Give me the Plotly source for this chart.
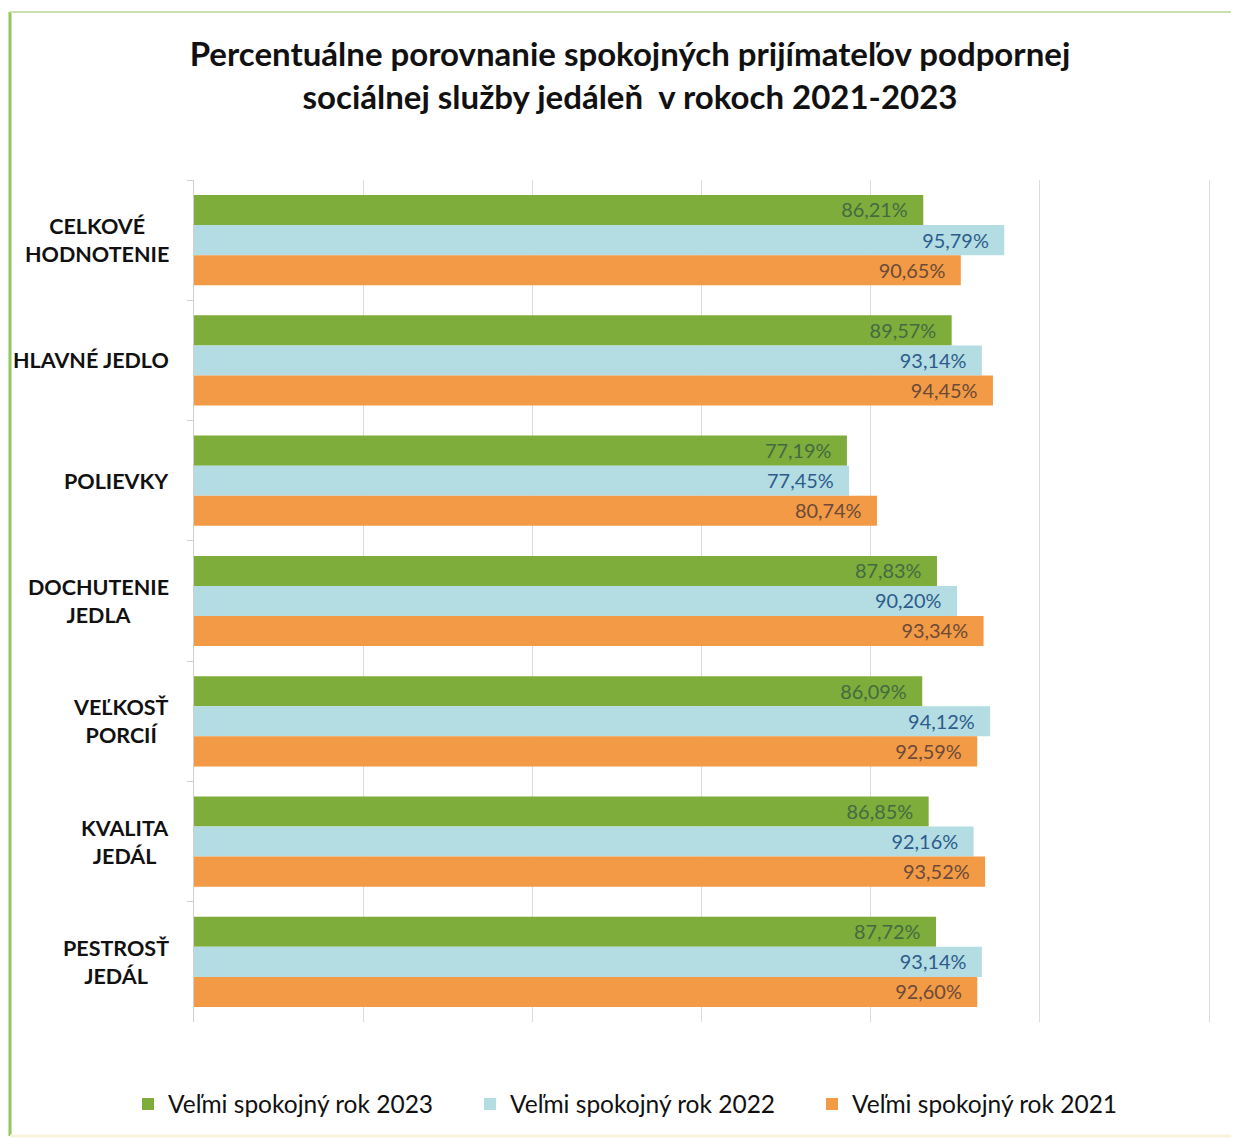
import plotly.graph_objects as go

categories = ["CELKOVÉ<br>HODNOTENIE", "HLAVNÉ JEDLO", "POLIEVKY", "DOCHUTENIE<br>JEDLA",
              "VEĽKOSŤ<br>PORCIÍ", "KVALITA<br>JEDÁL", "PESTROSŤ<br>JEDÁL"]
series_names = ["Veľmi spokojný rok 2023", "Veľmi spokojný rok 2022", "Veľmi spokojný rok 2021"]
values_2023 = [86.21, 89.57, 77.19, 87.83, 86.09, 86.85, 87.72]
values_2022 = [95.79, 93.14, 77.45, 90.20, 94.12, 92.16, 93.14]
values_2021 = [90.65, 94.45, 80.74, 93.34, 92.59, 93.52, 92.60]
grid_ticks = [0, 20, 40, 60, 80, 100, 120]

bar_colors = ["#7fad3b", "#b3dde2", "#f39a46"]
label_colors = ["#436b42", "#2d5b8c", "#6b4a38"]
FONT = "Lato"

W, H = 1231, 1131
L, R, T, B = 186, 13, 172, 117
PW = W - L - R
PH = H - T - B
XMAX = 122

fig = go.Figure()
for name, vals, col, lcol in zip(series_names, [values_2023, values_2022, values_2021],
                                 bar_colors, label_colors):
    fig.add_trace(go.Bar(
        y=categories, x=vals, name=name, orientation="h",
        marker=dict(color=col, line=dict(width=0)),
        texttemplate="%{x:.2f}%\u2002\u2009", textposition="inside",
        insidetextanchor="end", textangle=0,
        textfont=dict(family=FONT, size=21.5, color=lcol),
    ))

for c in categories:
    fig.add_annotation(x=0, xref="paper", xshift=-23, xanchor="right", y=c, yref="y",
                       text=c, showarrow=False, align="center",
                       font=dict(family=FONT, size=21.5, color="#111111", weight="bold"))

# chart border
fig.add_shape(type="line", xref="paper", yref="paper", x0=(2 - L) / PW, x1=(2 - L) / PW,
              y0=-(1128 - (H - B)) / PH, y1=(H - B - 4) / PH,
              line=dict(color="#93c65c", width=3))
fig.add_shape(type="line", xref="paper", yref="paper", x0=(2 - L) / PW, x1=1.05,
              y0=(H - B - 4) / PH, y1=(H - B - 4) / PH,
              line=dict(color="#c9dfae", width=2))
fig.add_shape(type="line", xref="paper", yref="paper", x0=(2 - L) / PW, x1=1.05,
              y0=-(1128 - (H - B)) / PH, y1=-(1128 - (H - B)) / PH,
              line=dict(color="#f7f3dc", width=3))

fig.update_layout(
    width=W, height=H,
    margin=dict(l=L, r=R, t=T, b=B),
    paper_bgcolor="white", plot_bgcolor="white",
    separators=", ",
    barmode="group", bargap=0.25, bargroupgap=0,
    showlegend=True,
    title=dict(text="<b>Percentuálne porovnanie spokojných prijímateľov podpornej<br>sociálnej služby jedáleň  v rokoch 2021-2023</b>",
               x=622/W, xanchor="center", y=1-58/H, yanchor="middle",
               font=dict(family=FONT, size=33, color="#111111")),
    xaxis=dict(range=[0, XMAX], tickvals=grid_ticks, showticklabels=False, showgrid=True,
               gridcolor="#dcdcdc", gridwidth=1, zeroline=False, showline=False, fixedrange=True),
    yaxis=dict(autorange="reversed", showticklabels=False, showline=True, linecolor="#d0d0d0",
               ticks="outside", tickson="boundaries", ticklen=6, tickcolor="#d0d0d0",
               showgrid=False, zeroline=False),
    legend=dict(orientation="h", x=(120-L)/PW, xanchor="left", y=-(1096-(H-B))/PH, yanchor="middle",
                font=dict(family=FONT, size=24.5, color="#111111"),
                entrywidth=297, entrywidthmode="pixels", traceorder="normal"),
)

fig.write_html("out.html")
